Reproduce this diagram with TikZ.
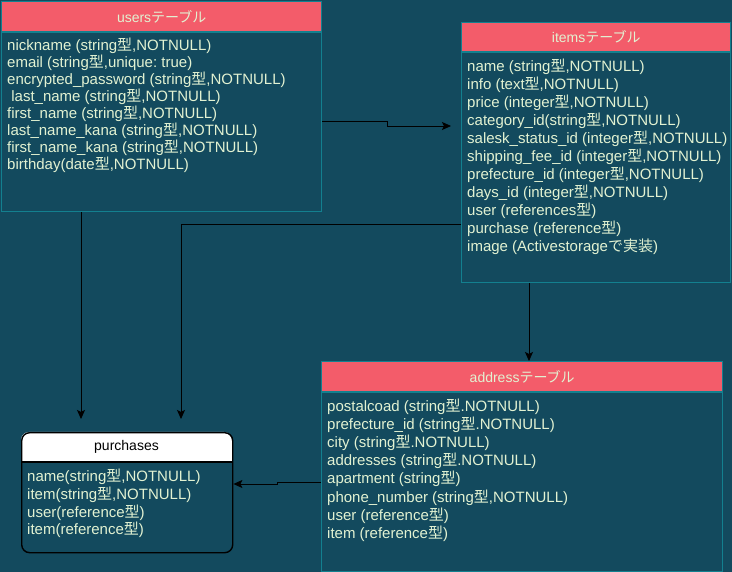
\documentclass[tikz,border=0pt]{standalone}
\usepackage{fontspec}
\setmainfont{Liberation Sans}
\newfontfamily\jpfont{Noto Sans CJK JP}
\newcommand\jp[1]{{\jpfont #1}}
\usetikzlibrary{arrows.meta}
\definecolor{bgteal}{HTML}{134A5E}
\definecolor{edgeteal}{HTML}{13808F}
\definecolor{headred}{HTML}{F35C6A}
\definecolor{inkcream}{HTML}{E2F2D2}
\frenchspacing

\begin{document}
\begin{tikzpicture}[x=1pt,y=-1pt,
  tablehead/.style={draw=edgeteal, line width=1.4pt, fill=headred, text=inkcream,
    font=\fontsize{14}{16}\selectfont, anchor=north west, inner sep=0pt},
  tablebody/.style={draw=edgeteal, line width=1.4pt, fill=bgteal, anchor=north west, inner sep=0pt},
  field/.style={text=inkcream, font=\fontsize{15}{17}\selectfont, anchor=base west, inner sep=0pt},
  link/.style={draw=black, line width=0.8pt, -{Stealth[length=9pt,width=8pt,inset=2pt]}},
]
\useasboundingbox (0,0) rectangle (732,572);
\fill[bgteal] (0,0) rectangle (732,572);

% users table
\node[tablehead, minimum width=320pt, minimum height=30pt] (uh) at (1,1) {users\jp{テーブル}};
\node[tablebody, minimum width=320pt, minimum height=179pt] (ub) at (1,32) {};
\foreach \t [count=\i] in {
  {nickname (string\jp{型},NOTNULL)},
  {email (string\jp{型},unique: true)},
  {encrypted\_password (string\jp{型},NOTNULL)},
  {\ last\_name (string\jp{型},NOTNULL)},
  {first\_name (string\jp{型},NOTNULL)},
  {last\_name\_kana (string\jp{型},NOTNULL)},
  {first\_name\_kana (string\jp{型},NOTNULL)},
  {birthday(date\jp{型},NOTNULL)}}
  \node[field] (uf\i) at (7,{51+17*(\i-1)}) {\t};

% items table
\node[tablehead, minimum width=269pt, minimum height=29pt] (ih) at (461,22) {items\jp{テーブル}};
\node[tablebody, minimum width=269pt, minimum height=230pt] (ib) at (461,52) {};
\foreach \t [count=\i] in {
  {name (string\jp{型},NOTNULL)},
  {info (text\jp{型},NOTNULL)},
  {price (integer\jp{型},NOTNULL)},
  {category\_id(string\jp{型},NOTNULL)},
  {salesk\_status\_id (integer\jp{型},NOTNULL)},
  {shipping\_fee\_id (integer\jp{型},NOTNULL)},
  {prefecture\_id (integer\jp{型},NOTNULL)},
  {days\_id (integer\jp{型},NOTNULL)},
  {user (references\jp{型})},
  {purchase (reference\jp{型})},
  {image (Activestorage\jp{で実装})}}
  \node[field] (if\i) at (467,{72+18*(\i-1)}) {\t};

% address table
\node[tablehead, minimum width=401pt, minimum height=30pt] (ah) at (321,361) {address\jp{テーブル}};
\node[tablebody, minimum width=401pt, minimum height=179pt] (ab) at (321,392) {};
\foreach \t [count=\i] in {
  {postalcoad (string\jp{型}.NOTNULL)},
  {prefecture\_id (string\jp{型}.NOTNULL)},
  {city (string\jp{型}.NOTNULL)},
  {addresses (string\jp{型}.NOTNULL)},
  {apartment (string\jp{型})},
  {phone\_number (string\jp{型},NOTNULL)},
  {user (reference\jp{型})},
  {item (reference\jp{型})}}
  \node[field] (af\i) at (327,{411.5+18.1*(\i-1)}) {\t};

% purchases table
\begin{scope}
  \clip (21,432) rectangle (232,462);
  \fill[white, rounded corners=8pt] (21,432) rectangle (232,490);
\end{scope}
\node[draw=black, line width=1.4pt, rounded corners=8pt, minimum width=211pt,
  minimum height=120pt, anchor=north west, inner sep=0pt] (pb) at (21,432) {};
\draw[black, line width=1.4pt] (pb.west |- 0,462) -- (pb.east |- 0,462);
\node[font=\fontsize{14}{16}\selectfont, text=black] (ph) at (126.5,447) {purchases};
\foreach \t [count=\i] in {
  {name(string\jp{型},NOTNULL)},
  {item(string\jp{型},NOTNULL)},
  {user(reference\jp{型})},
  {item(reference\jp{型})}}
  \node[field] (pf\i) at (27,{482+17.6*(\i-1)}) {\t};

% relations
\draw[link, shorten >=10pt] (ub.east |- 0,121) -- (387,121) -- (387,126) -- (ib.west |- 0,126);
\draw[link, shorten >=13pt] (ib.west |- 0,224) -| (pb.north -| 181,0);
\draw[link, shorten >=13pt] (ub.south -| 81,0) -- (pb.north -| 81,0);
\draw[link] (ib.south -| 529,0) -- (ah.north -| 529,0);
\draw[link] (ab.west |- 0,482) -- (277,482) -- (277,484) -- (pb.east |- 0,484);
\end{tikzpicture}
\end{document}
